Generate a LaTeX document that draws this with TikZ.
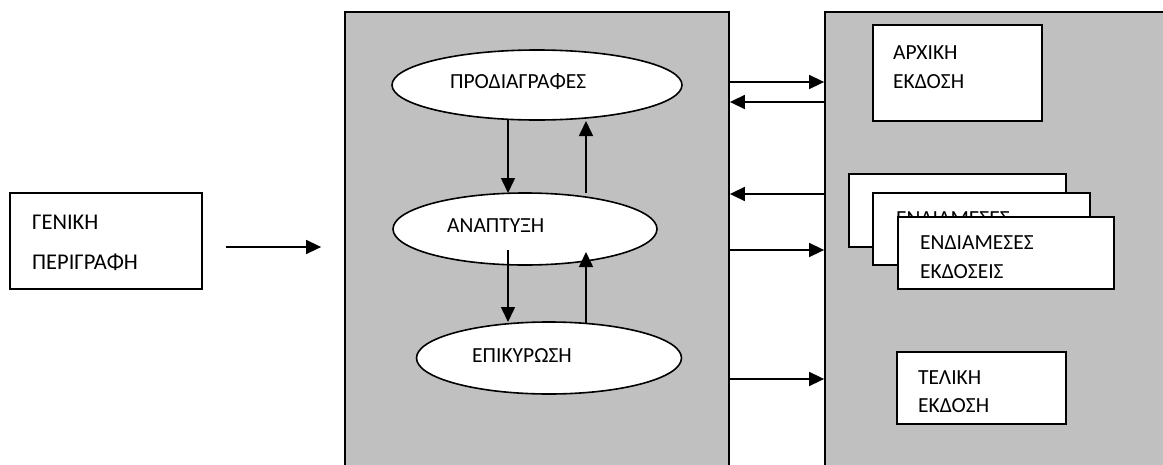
\documentclass[tikz,border=0pt]{standalone}
\usepackage{fontspec}
\setmainfont{Carlito}
\usetikzlibrary{arrows.meta,calc,shapes.geometric}
\definecolor{panelgray}{HTML}{C0C0C0}
\begin{document}
\begin{tikzpicture}[x=1pt,y=-1pt,
  panel/.style={draw=black,line width=1.8pt,fill=panelgray,inner sep=0},
  phase/.style={ellipse,draw,line width=1.6pt,fill=white,inner sep=0},
  card/.style={draw,line width=1.6pt,fill=white,inner sep=0},
  lbl/.style={inner sep=0,anchor=base west,font=\fontsize{21.5}{29}\selectfont,align=left},
  arr/.style={line width=1.6pt,-{Triangle[length=15pt,width=14pt]}}]
\useasboundingbox (0,0) rectangle (1163,464);
\clip (0,0) rectangle (1163,464);

% the two grey panels
\node[panel,minimum width=384,minimum height=468] (L) at (537,246) {};
\node[panel,minimum width=355,minimum height=468] (R) at (1002.5,246) {};

% general description box (label anchored on its last baseline)
\node[card,minimum width=192,minimum height=96] (G) at (106,241) {};
\node[lbl,font=\fontsize{22.5}{40}\selectfont] (tG) at (32,269) {ΓΕΝΙΚΗ\\ΠΕΡΙΓΡΑΦΗ};

% development phases
\node[phase,minimum width=290,minimum height=70] (E1) at (537,85) {};
\node[lbl] (tE1) at (450,88) {ΠΡΟΔΙΑΓΡΑΦΕΣ};
\node[phase,minimum width=264,minimum height=72] (E2) at (525,229) {};
\node[lbl] (tE2) at (447,232) {ΑΝΑΠΤΥΞΗ};
\node[phase,minimum width=265,minimum height=72] (E3) at (549,358) {};
\node[lbl] (tE3) at (472,362) {ΕΠΙΚΥΡΩΣΗ};

% releases
\node[card,minimum width=169,minimum height=96] (A) at (957.5,73) {};
\node[lbl] (tA) at (893,88) {ΑΡΧΙΚΗ\\ΕΚΔΟΣΗ};

\node[card,minimum width=217,minimum height=73] (M1) at (957.5,210.5) {};
\node[lbl] (tM1) at (871,235) {ΕΝΔΙΑΜΕΣΕΣ\\ΕΚΔΟΣΕΙΣ};
\node[card,minimum width=217,minimum height=72] (M2) at (981.5,229) {};
\node[lbl] (tM2) at (896,254) {ΕΝΔΙΑΜΕΣΕΣ\\ΕΚΔΟΣΕΙΣ};
\node[card,minimum width=216,minimum height=72] (M3) at (1006,253) {};
\node[lbl] (tM3) at (920,278) {ΕΝΔΙΑΜΕΣΕΣ\\ΕΚΔΟΣΕΙΣ};

\node[card,minimum width=169,minimum height=72] (T) at (981.5,388) {};
\node[lbl,font=\fontsize{21.5}{28}\selectfont] (tT) at (918,412) {ΤΕΛΙΚΗ\\ΕΚΔΟΣΗ};

% input arrow
\draw[arr] ($(G.east |- 0,247)+(23,0)$) -- ($(L.west |- 0,247)+(-23,0)$);

% arrows between the phases
\draw[arr] ($(E1.center)+(-29,35)$) -- ($(E2.center)+(-17,-36)$);
\draw[arr] ($(E2.center)+(61,-36)$) -- ($(E1.center)+(49,36)$);
\draw[arr] ($(E2.center)+(-17,21)$) -- ($(E3.center)+(-41,-36)$);
\draw[arr] ($(E3.center)+(37,-35)$) -- ($(E2.center)+(61,23)$);

% arrows between the panels
\draw[arr] (L.east |- 0,82) -- (R.west |- 0,82);
\draw[arr] (R.west |- 0,102) -- (L.east |- 0,102);
\draw[arr] (R.west |- 0,194) -- (L.east |- 0,194);
\draw[arr] (L.east |- 0,250) -- (R.west |- 0,250);
\draw[arr] (L.east |- 0,379) -- (R.west |- 0,379);
\end{tikzpicture}
\end{document}
